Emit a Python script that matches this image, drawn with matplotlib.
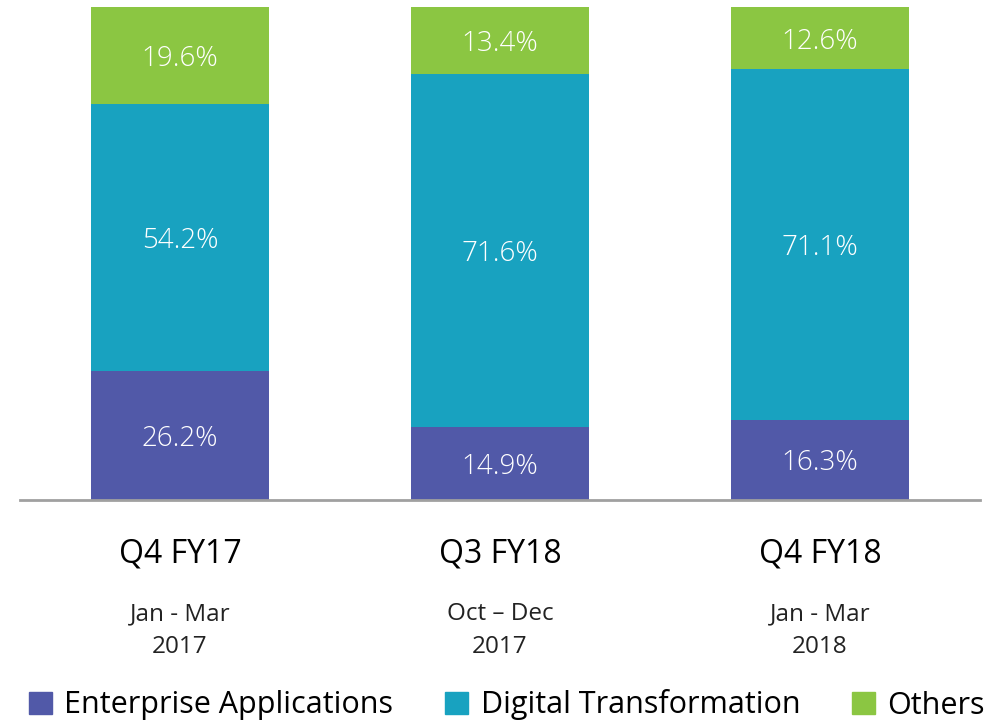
import numpy as np
import matplotlib.pyplot as plt

quarters = ["Q4 FY17", "Q3 FY18", "Q4 FY18"]
periods = ["Jan - Mar\n2017", "Oct \u2013 Dec\n2017", "Jan - Mar\n2018"]
series = ["Enterprise Applications", "Digital Transformation", "Others"]
enterprise = [26.2, 14.9, 16.3]
digital = [54.2, 71.6, 71.1]
others = [19.6, 13.4, 12.6]
colors = ["#5159A8", "#18A2C0", "#8BC642"]

plt.rcParams['font.family'] = ['Open Sans', 'DejaVu Sans']

fig = plt.figure(figsize=(10.04, 7.23), dpi=100)
ax = fig.add_axes([20 / 1004, 1 - 500 / 723, 960 / 1004, 493 / 723])

x = np.arange(len(quarters))
bottom = np.zeros(len(quarters))
for vals, col, name in zip([enterprise, digital, others], colors, series):
    vals = np.array(vals)
    ax.bar(x, vals, width=0.555, bottom=bottom, color=col, label=name)
    for xi, b, v in zip(x, bottom, vals):
        ax.text(xi, b + v / 2, f"{v:.1f}%", ha='center', va='center_baseline',
                color='white', fontsize=20, fontweight='light')
    bottom += vals

ax.set_xlim(-0.5, 2.5)
ax.set_ylim(0, 100)
for s in ['top', 'right', 'left']:
    ax.spines[s].set_visible(False)
ax.spines['bottom'].set_color('#A0A0A0')
ax.spines['bottom'].set_linewidth(2)
ax.set_yticks([])
ax.set_xticks(x)
ax.set_xticklabels([])
ax.tick_params(axis='x', length=0)

for xi, q, p in zip(x, quarters, periods):
    ax.text(xi, -11, q, ha='center', va='center', fontsize=23, clip_on=False)
    ax.text(xi, -26.5, p, ha='center', va='center', fontsize=17.5,
            linespacing=1.5, color='#222222', clip_on=False)

handles = [plt.Rectangle((0, 0), 1, 1, color=c) for c in colors]
fig.legend(handles, series, loc='center', bbox_to_anchor=(0.505, 1 - 705 / 723),
           ncol=3, frameon=False, fontsize=22, handlelength=0.75,
           handleheight=0.75, handletextpad=0.4, columnspacing=1.7)

fig.savefig("out.png", dpi=100)
